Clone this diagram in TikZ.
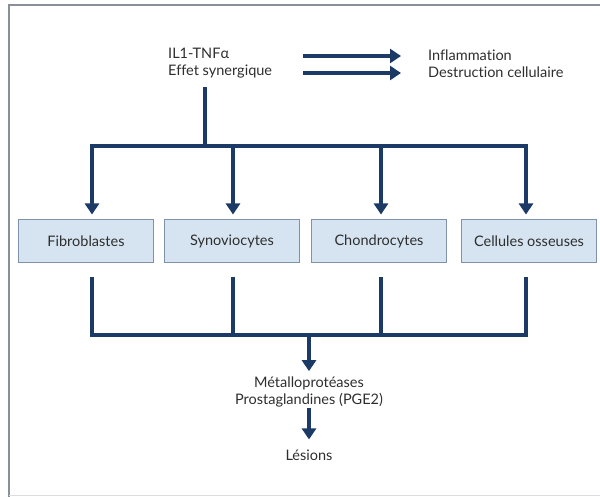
\documentclass[tikz,border=0pt]{standalone}
\usepackage{fontspec}
\setmainfont{Lato}[Ligatures=NoCommon]
\usetikzlibrary{arrows.meta}
\definecolor{navy}{HTML}{1B3A66}
\definecolor{boxfill}{HTML}{D6E4F1}
\definecolor{boxline}{HTML}{7F92A9}
\definecolor{txt}{HTML}{2E2E2E}
\definecolor{frame}{HTML}{8A8F99}
\tikzset{
  lbl/.style={text=txt, font=\fontsize{14.5}{17}\selectfont, inner sep=0pt, align=center},
  cell/.style={draw=boxline, line width=1pt, fill=boxfill, minimum width=135pt, minimum height=43pt, text=txt, font=\fontsize{14.5}{17}\selectfont},
  wire/.style={draw=navy, line width=3.2pt},
  arr/.style={draw=navy, line width=3.2pt, -{Triangle[width=14pt,length=11pt]}},
  bigarr/.style={draw=navy, line width=4.2pt, -{Triangle[width=14pt,length=11pt]}},
}
\begin{document}
\begin{tikzpicture}[x=1pt,y=-1pt]
\useasboundingbox (0,0) rectangle (600,497);
% frame
\draw[frame, line width=1.3pt] (600,5) -- (9,5) -- (9,497);
\draw[frame!30, line width=0.8pt] (9,495) -- (600,495);
% top texts
\node[lbl, anchor=west, align=left] (src) at (168,63) {IL1-TNFα\\Effet synergique};
\node[lbl, anchor=west, align=left] (eff) at (428,64) {Inflammation\\Destruction cellulaire};
\coordinate (a1s) at (303,56); \coordinate (a1e) at (401,56);
\coordinate (a2s) at (303,73); \coordinate (a2e) at (401,73);
\draw[bigarr] (a1s) -- (a1e);
\draw[bigarr] (a2s) -- (a2e);
% boxes
\node[cell] (b1) at (86,241.5) {Fibroblastes};
\node[cell] (b2) at (232,241.5) {Synoviocytes};
\node[cell] (b3) at (379,241.5) {Chondrocytes};
\node[cell] (b4) at (529,241.5) {Cellules osseuses};
% top distribution
\coordinate (top) at (205,146);
\coordinate (s0) at (205,87);
\coordinate (t1) at (92,146); \coordinate (t2) at (233,146);
\coordinate (t3) at (381,146); \coordinate (t4) at (526,146);
\draw[wire] (s0) -- (top);
\draw[wire, line cap=rect] (t1) -- (t4);
\foreach \i in {1,2,3,4} \draw[arr, shorten >=5pt] (t\i) -- (b\i.north -| t\i);
% bottom collection
\coordinate (u1) at (92,277); \coordinate (u2) at (233,277);
\coordinate (u3) at (381,277); \coordinate (u4) at (526,277);
\coordinate (d1) at (92,335); \coordinate (d4) at (526,335);
\coordinate (mid) at (309,335);
\draw[wire, line join=miter] (u1) -- (d1) -- (d4) -- (u4);
\draw[wire] (u2) -- (u2 |- d1);
\draw[wire] (u3) -- (u3 |- d1);
% lower chain
\node[lbl] (met) at (309,391.5) {Métalloprotéases\\Prostaglandines (PGE2)};
\node[lbl] (les) at (309,455) {Lésions};
\draw[arr, shorten >=5pt] (mid) -- (met.north);
\draw[arr, shorten <=1pt, shorten >=10pt] (met.south) -- (les.north);
\end{tikzpicture}
\end{document}
